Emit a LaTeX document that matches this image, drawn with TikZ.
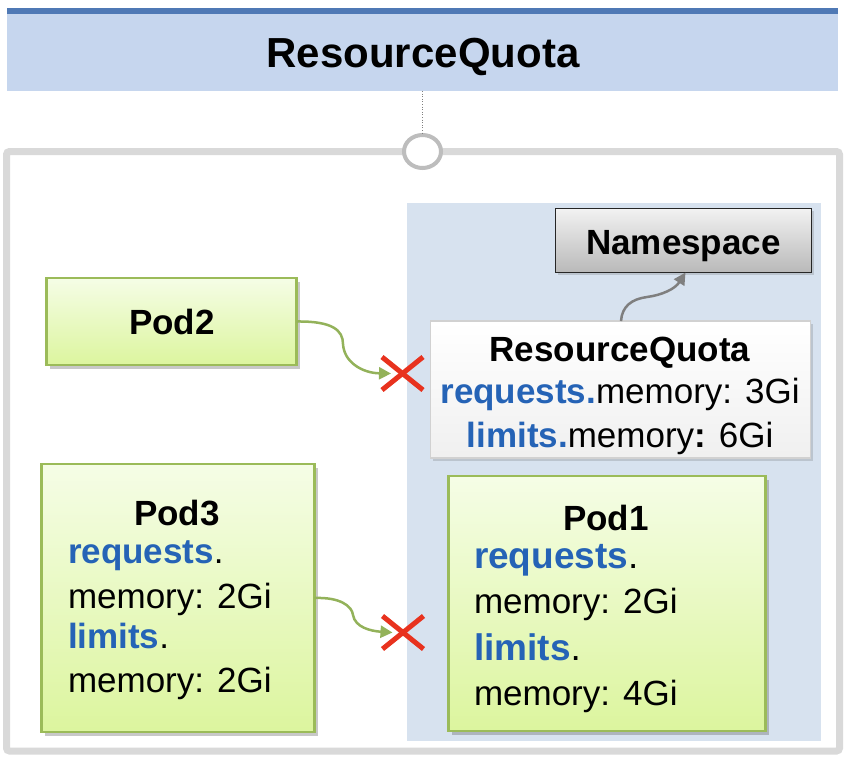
\documentclass[tikz,border=0pt]{standalone}
\usepackage{fontspec}
\setmainfont{Liberation Sans}
\usetikzlibrary{arrows.meta,shadows,shapes.geometric}
\definecolor{titlefill}{HTML}{C6D6EE}
\definecolor{titleline}{HTML}{4F79B5}
\definecolor{framegray}{HTML}{D9D9D9}
\definecolor{ringgray}{HTML}{BDBDBD}
\definecolor{nsregion}{HTML}{D7E2EF}
\definecolor{podtop}{HTML}{F5FDE6}
\definecolor{podbot}{HTML}{DCF59E}
\definecolor{podline}{HTML}{9BBB59}
\definecolor{kblue}{HTML}{2563B6}
\definecolor{xred}{HTML}{E8321E}
\definecolor{arrgreen}{HTML}{93B25A}
\definecolor{arrgray}{HTML}{7F7F7F}
\definecolor{nstop}{HTML}{F2F2F2}
\definecolor{nsbot}{HTML}{B9B9B9}
\newcommand\bodyfs{\fontsize{35}{42}\selectfont}
\newcommand\bigbodyfs{\fontsize{37}{44}\selectfont}
\newcommand\titlefs{\fontsize{42}{50}\selectfont}
\newcommand\bl[1]{\textcolor{kblue}{\textbf{#1}}}
\begin{document}
\begin{tikzpicture}[x=1pt,y=-1pt,
  every node/.style={inner sep=0pt, outer sep=0pt},
  podbox/.style={draw=podline, line width=2.8pt, top color=podtop, bottom color=podbot,
    drop shadow={shadow xshift=3pt, shadow yshift=-4pt, opacity=0.3, fill=black!70}},
  rqbox/.style={draw=black!18, line width=1.5pt, top color=white, bottom color=black!6,
    drop shadow={shadow xshift=2pt, shadow yshift=-3pt, opacity=0.2, fill=black!70}},
  nsbox/.style={draw=black!85, line width=1.2pt, top color=nstop, bottom color=nsbot,
    drop shadow={shadow xshift=2pt, shadow yshift=-2pt, opacity=0.2, fill=black!70}},
  txt/.style={font=\bodyfs},
  xmark/.style={minimum width=41pt, minimum height=33pt},
  xline/.style={draw=xred, line width=5pt},
  greenarrow/.style={draw=arrgreen, line width=2.5pt, -{Triangle[length=12pt,width=12pt]}},
  grayarrow/.style={draw=arrgray, line width=2.5pt, -{Triangle[length=12pt,width=12pt]}},
]
\useasboundingbox (0,0) rectangle (850,764);
\fill[white] (0,0) rectangle (850,764);

% title bar
\node[fill=titlefill, minimum width=831pt, minimum height=83pt, anchor=north west] (titlebar) at (7,8) {};
\fill[titleline] (7,8) rectangle (838,13.5);
\node[anchor=base, font=\titlefs\bfseries] (titletext) at (423,67) {ResourceQuota};

% outer frame
\node[draw=framegray, line width=7pt, rounded corners=3pt, minimum width=833pt, minimum height=599.5pt, anchor=north west] (frame) at (6.5,151.5) {};

% namespace region
\fill[nsregion] (407,203) rectangle (821,741);

% ring and dotted link
\node[ellipse, draw=ringgray, line width=4pt, fill=white, minimum width=37pt, minimum height=33pt] (ring) at (422.5,151.5) {};
\draw[dotted, black!50, line width=0.6pt] (titlebar.south) -- (ring.north);

% Namespace box
\node[nsbox, minimum width=256pt, minimum height=64pt, anchor=north west] (ns) at (555.5,208.5) {};
\node[anchor=base, txt, font=\bodyfs\bfseries] (nst) at (683.5,254) {Namespace};

% ResourceQuota box
\node[rqbox, minimum width=380pt, minimum height=137pt, anchor=north west] (rq) at (430.5,321) {};
\node[anchor=base, txt, font=\bodyfs\bfseries] (rq1) at (620,361) {ResourceQuota};
\node[anchor=base, txt] (rq2) at (620,403) {\bl{requests.}memory: 3Gi};
\node[anchor=base, txt] (rq3) at (620,447) {\bl{limits.}memory\textbf{:} 6Gi};

% Pod2
\node[podbox, minimum width=250pt, minimum height=87pt, anchor=north west] (pod2) at (46.5,278) {};
\node[anchor=base, txt, font=\bodyfs\bfseries] (pod2t) at (172,334) {Pod2};

% Pod3
\node[podbox, minimum width=273pt, minimum height=268pt, anchor=north west] (pod3) at (41.5,464) {};
\node[anchor=base, txt, font=\bodyfs\bfseries] (pod3t) at (177,525) {Pod3};
\node[anchor=base west, txt] (pod3a) at (68,563) {\bl{requests}.};
\node[anchor=base west, txt] (pod3b) at (68,608) {memory: 2Gi};
\node[anchor=base west, txt] (pod3c) at (68,648) {\bl{limits}.};
\node[anchor=base west, txt] (pod3d) at (68,692) {memory: 2Gi};

% Pod1
\node[podbox, minimum width=317pt, minimum height=255pt, anchor=north west] (pod1) at (448.5,476) {};
\node[anchor=base, txt, font=\bodyfs\bfseries] (pod1t) at (606,530) {Pod1};
\node[anchor=base west, txt, font=\bigbodyfs] (pod1a) at (474,568) {\bl{requests}.};
\node[anchor=base west, txt] (pod1b) at (474,613) {memory: 2Gi};
\node[anchor=base west, txt, font=\bigbodyfs] (pod1c) at (474,660) {\bl{limits}.};
\node[anchor=base west, txt] (pod1d) at (474,705) {memory: 4Gi};

% red crosses
\node[xmark] (x1) at (402.5,373.5) {};
\node[xmark] (x2) at (403,632.5) {};

% connectors
\draw[greenarrow] (pod2.east) .. controls (332,321) and (343,330) .. (343,344)
   .. controls (344,362) and (362,373) .. ([xshift=9pt]x1.west);
\draw[greenarrow] (pod3.east) .. controls (340,597) and (352,606) .. (353,615)
   .. controls (355,627) and (370,631) .. ([xshift=10pt]x2.west);
\draw[grayarrow] (rq.north -| 621,0) .. controls (622,306) and (632,299) .. (647,297)
   .. controls (662,295) and (675,289) .. ([xshift=2pt]ns.south);

\draw[xline] (x1.north west) -- (x1.south east);
\draw[xline] (x1.south west) -- (x1.north east);
\draw[xline] (x2.north west) -- (x2.south east);
\draw[xline] (x2.south west) -- (x2.north east);
\end{tikzpicture}
\end{document}
